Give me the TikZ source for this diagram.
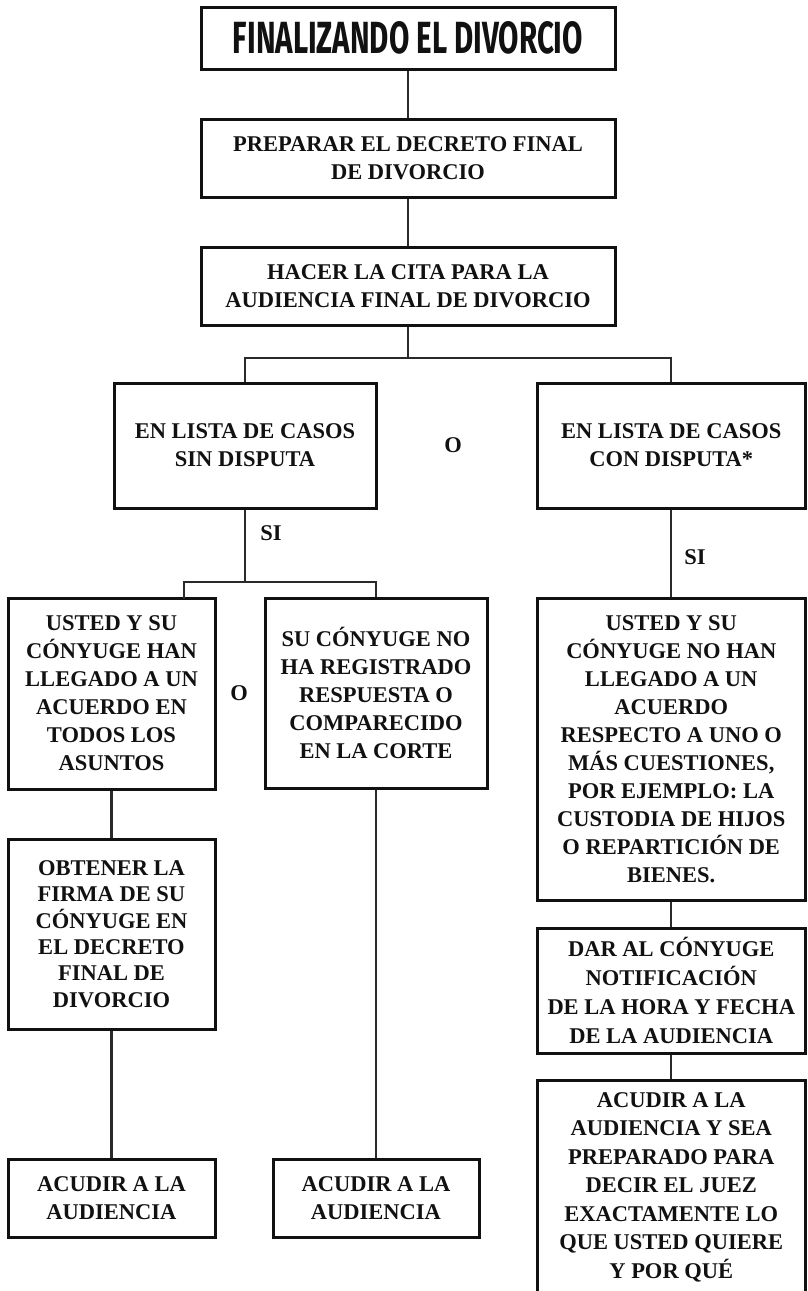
\documentclass[tikz,border=0pt]{standalone}
\usepackage{fontspec}
\usepackage{graphicx}
\setmainfont{Liberation Serif}
\newfontfamily\titlefont{Fira Sans}
\usetikzlibrary{calc}
\definecolor{ink}{HTML}{111111}
\definecolor{wire}{HTML}{2A2A2A}
\tikzset{
  box/.style={draw=ink, line width=3pt, inner sep=0pt, align=center, text=ink,
    font=\bfseries\fontsize{22.5}{28}\selectfont},
  wirelink/.style={draw=wire, line width=2.2pt},
  lbl/.style={text=ink, inner sep=0pt, font=\bfseries\fontsize{22.5}{28}\selectfont}
}
\begin{document}
\begin{tikzpicture}[x=1pt,y=-1pt]
\useasboundingbox (0,0) rectangle (807,1291);

% boxes
\node[box, minimum width=414pt, minimum height=62pt] (title) at (408,38)
  {\resizebox{350pt}{32pt}{\titlefont\bfseries FINALIZANDO EL DIVORCIO}};
\node[box, minimum width=414pt, minimum height=78pt] (prep) at (408,158)
  {PREPARAR EL DECRETO FINAL\\DE DIVORCIO};
\node[box, minimum width=414pt, minimum height=78pt] (cita) at (408,286)
  {HACER LA CITA PARA LA\\AUDIENCIA FINAL DE DIVORCIO};
\node[box, minimum width=262pt, minimum height=125pt] (sin) at (245,445.5)
  {EN LISTA DE CASOS\\SIN DISPUTA};
\node[box, minimum width=268.5pt, minimum height=125pt] (con) at (671.25,445.5)
  {EN LISTA DE CASOS\\CON DISPUTA*};
\node[box, minimum width=207pt, minimum height=191pt] (acuerdo) at (111.5,693.5)
  {USTED Y SU\\CÓNYUGE HAN\\LLEGADO A UN\\ACUERDO EN\\TODOS LOS\\ASUNTOS};
\node[box, minimum width=222pt, minimum height=190pt] (noreg) at (376,693)
  {SU CÓNYUGE NO\\HA REGISTRADO\\RESPUESTA O\\COMPARECIDO\\EN LA CORTE};
\node[box, minimum width=268.5pt, minimum height=302pt] (noacuerdo) at (671.25,749)
  {USTED Y SU\\CÓNYUGE NO HAN\\LLEGADO A UN\\ACUERDO\\RESPECTO A UNO O\\MÁS CUESTIONES,\\POR EJEMPLO: LA\\CUSTODIA DE HIJOS\\O REPARTICIÓN DE\\BIENES.};
\node[box, minimum width=268.5pt, minimum height=125pt,
  font=\bfseries\fontsize{22.5}{29}\selectfont] (notif) at (671.25,990.5)
  {DAR AL CÓNYUGE\\NOTIFICACIÓN\\DE LA HORA Y FECHA\\DE LA AUDIENCIA};
\node[box, minimum width=268.5pt, minimum height=214pt,
  font=\bfseries\fontsize{22.5}{28.5}\selectfont] (juez) at (671.25,1187)
  {ACUDIR A LA\\AUDIENCIA Y SEA\\PREPARADO PARA\\DECIR EL JUEZ\\EXACTAMENTE LO\\QUE USTED QUIERE\\Y POR QUÉ};
\node[box, minimum width=207pt, minimum height=190pt,
  font=\bfseries\fontsize{22.5}{26.4}\selectfont] (firma) at (111.5,934)
  {OBTENER LA\\FIRMA DE SU\\CÓNYUGE EN\\EL DECRETO\\FINAL DE\\DIVORCIO};
\node[box, minimum width=207pt, minimum height=78pt] (acudirA) at (111.5,1198)
  {ACUDIR A LA\\AUDIENCIA};
\node[box, minimum width=206pt, minimum height=78pt] (acudirB) at (376,1198)
  {ACUDIR A LA\\AUDIENCIA};

% labels
\node[lbl] (o1) at (453,445) {O};
\node[lbl] (o2) at (239,693) {O};
\node[lbl] (si1) at (271,533) {SI};
\node[lbl] (si2) at (695,557) {SI};

% junctions
\coordinate (j1) at (408,358);
\coordinate (j2) at (245,582);
\coordinate (adrop) at (184,598.5);

% connectors
\draw[wirelink] (title.south) -- (prep.north);
\draw[wirelink] (prep.south) -- (cita.north);
\draw[wirelink] (cita.south) -- (j1);
\draw[wirelink] (sin.north) |- (j1) -| (con.north);
\draw[wirelink] (sin.south) -- (j2);
\draw[wirelink] (adrop) |- (j2) -| (noreg.north);
\draw[wirelink] (acuerdo.south) -- (firma.north);
\draw[wirelink] (firma.south) -- (acudirA.north);
\draw[wirelink] (noreg.south) -- (acudirB.north);
\draw[wirelink] (con.south) -- (noacuerdo.north);
\draw[wirelink] (noacuerdo.south) -- (notif.north);
\draw[wirelink] (notif.south) -- (juez.north);
\end{tikzpicture}
\end{document}
